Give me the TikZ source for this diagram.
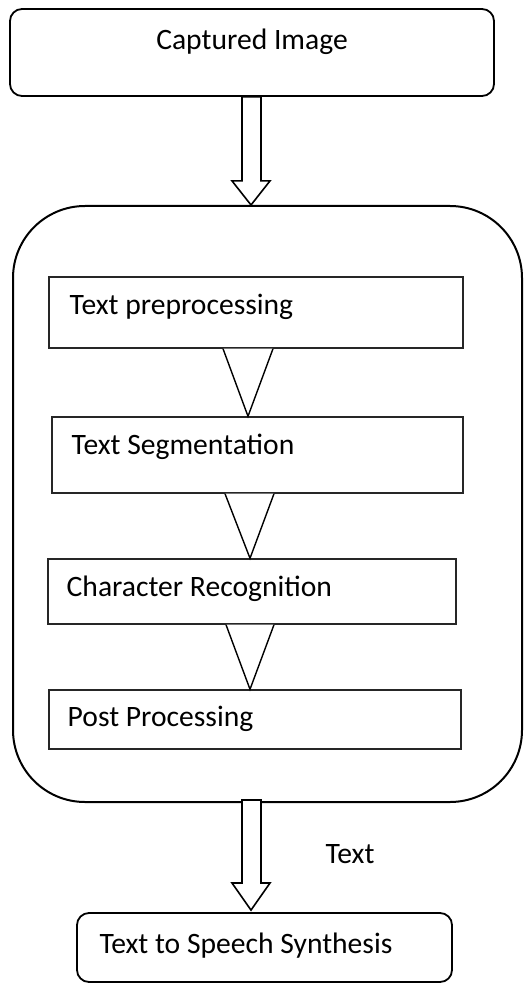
\documentclass[tikz,border=0pt]{standalone}
\usepackage{fontspec}
\setmainfont{Carlito}
\usetikzlibrary{positioning, calc}

\begin{document}
\begin{tikzpicture}[
    x=0.5pt, y=-0.5pt,
    every node/.style = {font=\fontsize{14.8}{17}\selectfont},
    endbox/.style = {rectangle, draw, line width=0.9pt, rounded corners=6pt, inner sep=0pt},
    stage/.style = {rectangle, draw=black!85, line width=0.7pt, inner sep=0pt},
    stagetext/.style = {inner sep=0pt, anchor=west},
    group/.style = {rectangle, draw, line width=1pt, rounded corners=36pt, inner sep=0pt},
    blockarr/.style = {draw, fill=white, line width=0.8pt, line join=miter},
    tri/.style = {draw, fill=white, line width=0.7pt, line join=miter},
]
\useasboundingbox (0,0) rectangle (524,983);

%% ---- Outer OCR group ----
\node[group, minimum width=254.5pt, minimum height=298pt] (grp) at (267.5, 504) {};

%% ---- Input and output boxes ----
\node[endbox, minimum width=242pt, minimum height=43.5pt] (cap) at (252, 52.5) {};
\node at ($(cap.center)+(0,-10.5)$) (captext) {Captured Image};

\node[endbox, minimum width=187.5pt, minimum height=34.5pt] (tts) at (264.5, 947.5) {};
\node[stagetext] at ($(tts.west)+(23,-1.5)$) (ttstext) {Text to Speech Synthesis};

%% ---- Processing stages ----
\node[stage, minimum width=207pt, minimum height=35.5pt] (b1) at (256, 312.5) {};
\node[stage, minimum width=205.5pt, minimum height=38pt] (b2) at (257.5, 455) {};
\node[stage, minimum width=204pt, minimum height=32.5pt] (b3) at (252, 591.5) {};
\node[stage, minimum width=206pt, minimum height=29.5pt] (b4) at (255, 719.5) {};

\node[stagetext] at ($(b1.west)+(21,-5.5)$) (t1) {Text preprocessing};
\node[stagetext] at ($(b2.west)+(20,-8)$) (t2) {Text Segmentation};
\node[stagetext] at ($(b3.west)+(19,-2.5)$) (t3) {Character Recognition};
\node[stagetext] at ($(b4.west)+(19,-0.5)$) (t4) {Post Processing};

%% ---- Triangles between stages ----
\draw[tri] ($(b1.south)+(-33,0)$) -- ($(b2.north)+(-9.5,0)$) -- ($(b1.south)+(17,0)$);
\draw[tri] ($(b2.south)+(-32.5,0)$) -- ($(b3.north)+(-2,0)$) -- ($(b2.south)+(16.5,0)$);
\draw[tri] ($(b3.south)+(-26,0)$) -- ($(b4.north)+(-5,0)$) -- ($(b3.south)+(22,0)$);

%% ---- Block arrows ----
\draw[blockarr] ($(cap.south)+(-10,0)$) -- ++(0,84) -- ++(-10,0)
    -- ($(cap.south |- grp.north)+(-1,0)$) -- ($(cap.south)+(18,84)$)
    -- ++(-9,0) -- ($(cap.south)+(9,0)$) -- cycle;

\coordinate (a2) at (grp.south -| cap.south);
\draw[blockarr] ($(a2)+(-10,-3)$) -- ++(0,83) -- ++(-10,0)
    -- ($(tts.north -| a2)+(-1,-2)$) -- ($(a2)+(18,80)$)
    -- ++(-9,0) -- ($(a2)+(9,-3)$) -- cycle;

\node at (350, 854) (lbl) {Text};

\end{tikzpicture}
\end{document}
